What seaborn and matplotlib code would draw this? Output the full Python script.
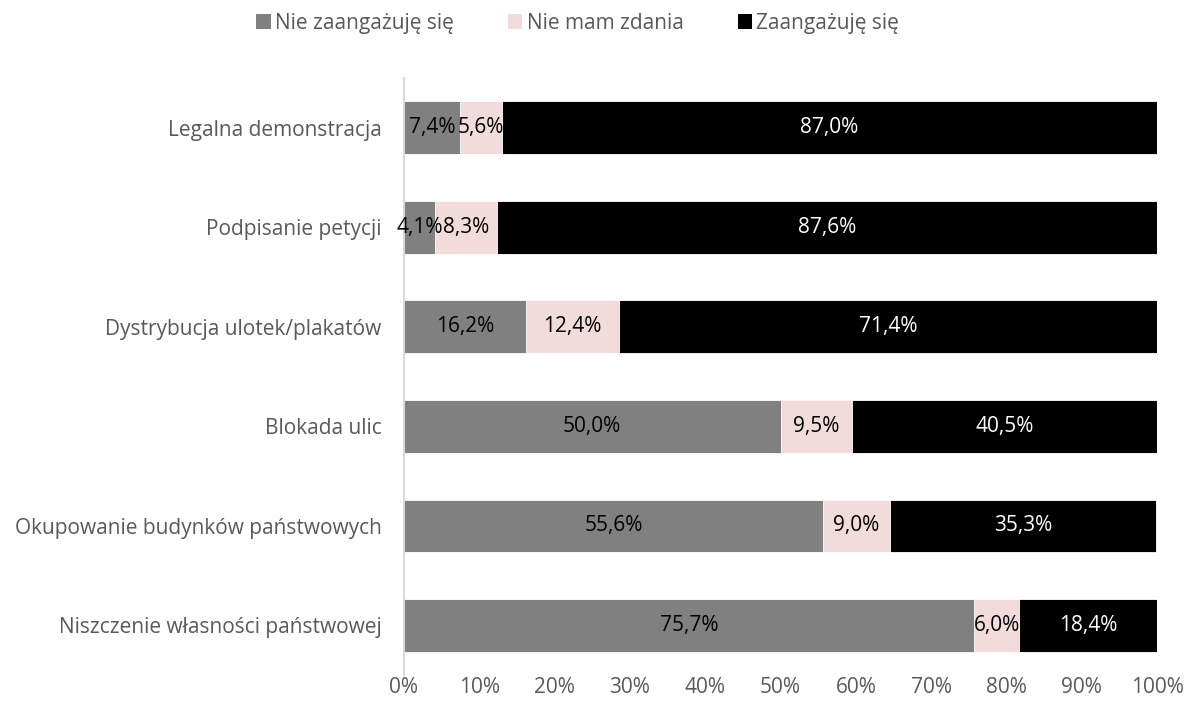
import matplotlib
matplotlib.use("Agg")
import matplotlib.pyplot as plt
import seaborn as sns
import pandas as pd
import numpy as np
from matplotlib.patches import Patch

categories = ["Legalna demonstracja", "Podpisanie petycji", "Dystrybucja ulotek/plakatów",
              "Blokada ulic", "Okupowanie budynków państwowych", "Niszczenie własności państwowej"]
nie_zaangazuje = [7.4, 4.1, 16.2, 50.0, 55.6, 75.7]
nie_mam_zdania = [5.6, 8.3, 12.4, 9.5, 9.0, 6.0]
zaangazuje = [87.0, 87.6, 71.4, 40.5, 35.3, 18.4]
series_names = ["Nie zaangażuję się", "Nie mam zdania", "Zaangażuję się"]
colors = ["#808080", "#F2DCDB", "#000000"]
label_colors = ["black", "black", "white"]
xticks = [0, 10, 20, 30, 40, 50, 60, 70, 80, 90, 100]

sns.set_theme(style="white")
plt.rcParams['font.family'] = ['Open Sans', 'DejaVu Sans']

FS = 15
series = [nie_zaangazuje, nie_mam_zdania, zaangazuje]
cum = np.cumsum(np.array(series), axis=0)

fig = plt.figure(figsize=(11.86, 7.16), dpi=100)
ax = fig.add_axes([0.3406, 0.057, 0.635, 0.834])

# draw stacked bars back to front
for i in [2, 1, 0]:
    df = pd.DataFrame({"cat": categories, "val": cum[i]})
    sns.barplot(data=df, y="cat", x="val", orient="h", color=colors[i], ax=ax,
                width=0.53, saturation=1, edgecolor="white", linewidth=0.6)

for i in range(3):
    left = cum[i] - np.array(series[i])
    for j, v in enumerate(series[i]):
        ax.text(left[j] + v / 2, j, f"{v:.1f}%".replace(".", ","), ha="center", va="center",
                color=label_colors[i], fontsize=FS)

ax.set_xlim(0, 100)
ax.set_ylim(5.5, -0.5)
ax.set_xticks(xticks)
ax.set_xticklabels([f"{t}%" for t in xticks])
ax.set_xlabel("")
ax.set_ylabel("")
ax.tick_params(axis="both", colors="#595959", labelsize=FS, length=0)
ax.tick_params(axis="x", pad=1)
ax.tick_params(axis="y", pad=16)
for s in ["top", "right", "bottom"]:
    ax.spines[s].set_visible(False)
ax.spines["left"].set_color("#D9D9D9")
ax.spines["left"].set_linewidth(1.5)
ax.grid(False)

handles = [Patch(facecolor=c, edgecolor="none") for c in colors]
fig.legend(handles, series_names, loc="upper center", bbox_to_anchor=(0.487, 1.008), ncol=3,
           frameon=False, fontsize=FS, labelcolor="#595959", handlelength=0.7, handleheight=0.7,
           handletextpad=0.2, columnspacing=2.6)

fig.savefig("out.png", dpi=100)
